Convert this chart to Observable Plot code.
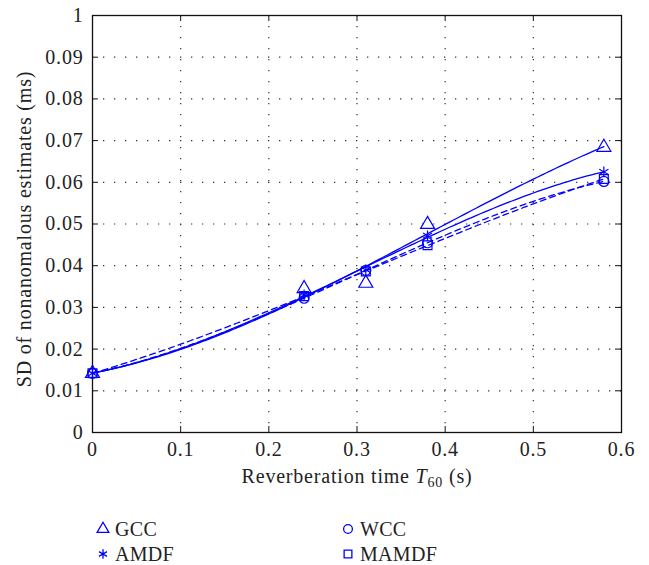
<!DOCTYPE html>
<html><head><meta charset="utf-8">
<script src="https://cdn.jsdelivr.net/npm/d3@7"></script>
<script src="https://cdn.jsdelivr.net/npm/@observablehq/plot@0.6"></script>
<style>
body{margin:0;background:#fff;font-family:"Liberation Serif","DejaVu Serif",serif;color:#222}
#wrap{position:relative;width:649px;height:565px}
#chart svg text{letter-spacing:0.8px}
.leg{position:absolute;height:24px;font-size:20px;display:flex;align-items:center;white-space:nowrap;letter-spacing:0.3px}
.leg svg{margin-right:6px;overflow:visible}
</style></head><body><div id="wrap"><div id="chart"></div></div>
<script>
// ---- data ----
const t60 = [0, 0.24, 0.31, 0.38, 0.58];
const gcc = [0.0142, 0.0345, 0.0358, 0.0499, 0.0684];
const amdf = [0.0142, 0.0330, 0.0390, 0.0472, 0.0625];
const wcc = [0.0142, 0.0322, 0.0389, 0.0455, 0.0602];
const mamdf = [0.0142, 0.0327, 0.0386, 0.0449, 0.0608];
const seriesNames = ["GCC", "AMDF", "WCC", "MAMDF"];
const seriesValues = [gcc, amdf, wcc, mamdf];
const seriesSymbols = ["triangle", "asterisk", "circle", "square"];
const seriesDash = [null, null, "6,4", "6,4"];
const xTicks = [0, 0.1, 0.2, 0.3, 0.4, 0.5, 0.6];
const xTickLabels = ["0", "0.1", "0.2", "0.3", "0.4", "0.5", "0.6"];
const yTicks = [0, 0.01, 0.02, 0.03, 0.04, 0.05, 0.06, 0.07, 0.08, 0.09, 0.1];
const yTickLabels = ["0", "0.01", "0.02", "0.03", "0.04", "0.05", "0.06", "0.07", "0.08", "0.09", "1"];
const xLabel = "Reverberation time T60 (s)";
const yLabel = "SD of nonanomalous estimates (ms)";
const blue = "#0000ff";

// cubic least-squares fit of each series (as in the original figure)
function polyfit(xs, ys, deg) {
  const n = deg + 1;
  const A = Array.from({length: n}, () => new Array(n + 1).fill(0));
  for (let k = 0; k < xs.length; k++) {
    for (let i = 0; i < n; i++) {
      for (let j = 0; j < n; j++) A[i][j] += Math.pow(xs[k], i + j);
      A[i][n] += ys[k] * Math.pow(xs[k], i);
    }
  }
  for (let i = 0; i < n; i++) {
    let p = i;
    for (let r = i + 1; r < n; r++) if (Math.abs(A[r][i]) > Math.abs(A[p][i])) p = r;
    [A[i], A[p]] = [A[p], A[i]];
    for (let r = 0; r < n; r++) if (r !== i) {
      const f = A[r][i] / A[i][i];
      for (let c = i; c <= n; c++) A[r][c] -= f * A[i][c];
    }
  }
  return A.map((row, i) => row[n] / row[i]);
}
const points = [], fits = [];
seriesNames.forEach((name, s) => {
  t60.forEach((x, i) => points.push({name, x, y: seriesValues[s][i], s}));
  const c = polyfit(t60, seriesValues[s], 3);
  const x0 = t60[0], x1 = t60[t60.length - 1];
  for (let k = 0; k <= 116; k++) {
    const x = x0 + (x1 - x0) * k / 116;
    fits.push({name, s, x, y: c.reduce((a, ci, i) => a + ci * Math.pow(x, i), 0)});
  }
});

const tickLenX = 0.6 * 6 / 529, tickLenY = 0.1 * 6 / 417;
const marks = [
  Plot.ruleY(yTicks.slice(1, -1), {stroke: "#333", strokeDasharray: "1.3,9.7", strokeWidth: 1.2}),
  Plot.ruleX(xTicks.slice(1, -1), {stroke: "#333", strokeDasharray: "1.3,9.7", strokeWidth: 1.2}),
  Plot.ruleY(yTicks, {x1: 0, x2: tickLenX, stroke: "#111"}),
  Plot.ruleY(yTicks, {x1: 0.6 - tickLenX, x2: 0.6, stroke: "#111"}),
  Plot.ruleX(xTicks, {y1: 0, y2: tickLenY, stroke: "#111"}),
  Plot.ruleX(xTicks, {y1: 0.1 - tickLenY, y2: 0.1, stroke: "#111"}),
  Plot.frame({stroke: "#111", strokeWidth: 1.3}),
  Plot.axisY({ticks: yTicks, tickSize: 0, tickPadding: 9, fontSize: 20, label: null,
    tickFormat: d => yTickLabels[yTicks.indexOf(d)]}),
  Plot.axisX({ticks: xTicks, tickSize: 0, tickPadding: 9, fontSize: 20, label: null,
    tickFormat: d => xTickLabels[xTicks.indexOf(d)]}),
  Plot.text([yLabel], {frameAnchor: "left", textAnchor: "middle", dx: -68, dy: 5, rotate: -90, fontSize: 20, fill: "#222"}),
  Plot.text([xLabel], {frameAnchor: "bottom", dy: 50, fontSize: 20, fill: "#222"})
];
seriesNames.forEach((name, s) => {
  marks.push(Plot.line(fits.filter(d => d.s === s), {x: "x", y: "y", stroke: blue, strokeWidth: 1.3,
    strokeDasharray: seriesDash[s] || undefined}));
});
seriesNames.forEach((name, s) => {
  marks.push(Plot.dot(points.filter(d => d.s === s), {x: "x", y: "y", stroke: blue, strokeWidth: 1.2,
    symbol: seriesSymbols[s], r: s === 0 ? 5.2 : 5}));
});

const chart = Plot.plot({
  width: 649, height: 500,
  marginLeft: 92, marginRight: 28, marginTop: 15, marginBottom: 68,
  x: {domain: [0, 0.6]},
  y: {domain: [0, 0.1]},
  style: {fontFamily: '"Liberation Serif","DejaVu Serif",serif', color: "#222", background: "#fff"},
  marks
});
document.getElementById("chart").appendChild(chart);

// italic T with subscript 60 in the x label
chart.querySelectorAll("text").forEach(t => {
  if (t.textContent === xLabel) {
    t.textContent = "";
    const add = (txt, attrs) => {
      const ts = document.createElementNS("http://www.w3.org/2000/svg", "tspan");
      ts.textContent = txt;
      for (const k in attrs) ts.setAttribute(k, attrs[k]);
      t.appendChild(ts);
    };
    add("Reverberation time ", {});
    add("T", {"font-style": "italic"});
    add("60", {"font-size": "14", dy: "4"});
    add(" (s)", {dy: "-4"});
  }
});

// legend
const legPos = [[97, 517], [97, 542], [342, 517], [342, 542]];
const symMap = {triangle: d3.symbolTriangle, asterisk: d3.symbolAsterisk, circle: d3.symbolCircle, square: d3.symbolSquare};
seriesNames.forEach((name, s) => {
  const div = document.createElement("div");
  div.className = "leg";
  div.style.left = legPos[s][0] + "px";
  div.style.top = legPos[s][1] + "px";
  const path = d3.symbol(symMap[seriesSymbols[s]], 60)();
  div.innerHTML = `<svg width="12" height="12" viewBox="-6 -6 12 12"><path d="${path}" fill="none" stroke="${blue}" stroke-width="1.3"/></svg><span>${name}</span>`;
  document.getElementById("wrap").appendChild(div);
});
</script>
</body></html>
